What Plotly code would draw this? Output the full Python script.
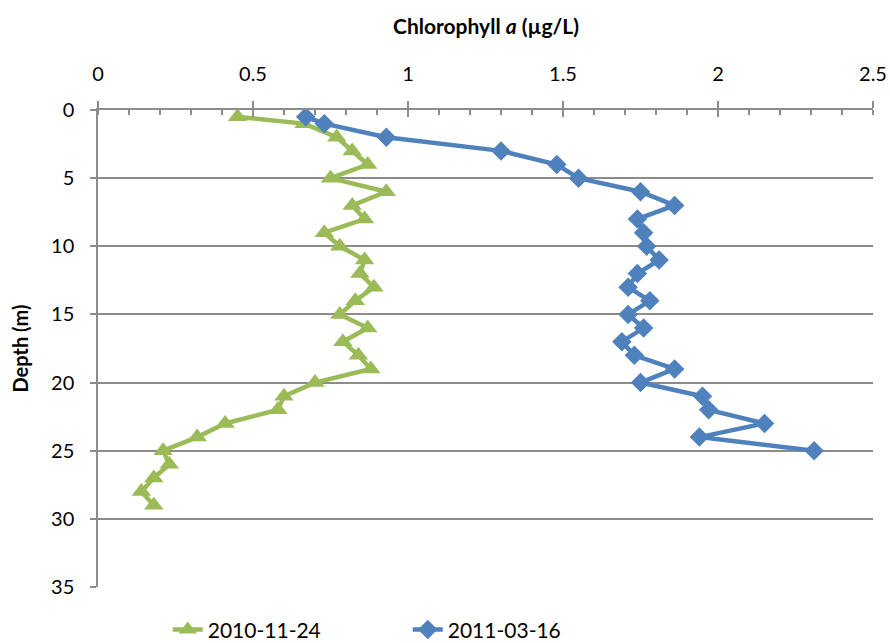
import plotly.graph_objects as go

# depth (m) and chlorophyll a (ug/L)
depth_nov = [0.5, 1, 2, 3, 4, 5, 6, 7, 8, 9, 10, 11, 12, 13, 14, 15,
             16, 17, 18, 19, 20, 21, 22, 23, 24, 25, 26, 27, 28, 29]
chl_nov = [0.45, 0.665, 0.77, 0.82, 0.87, 0.75, 0.93, 0.82, 0.86, 0.73,
           0.78, 0.86, 0.845, 0.89, 0.83, 0.78, 0.87, 0.79, 0.84, 0.88,
           0.70, 0.60, 0.58, 0.41, 0.32, 0.21, 0.23, 0.18, 0.14, 0.18]

depth_mar = [0.5, 1, 2, 3, 4, 5, 6, 7, 8, 9, 10, 11, 12, 13, 14, 15,
             16, 17, 18, 19, 20, 21, 22, 23, 24, 25]
chl_mar = [0.67, 0.73, 0.93, 1.30, 1.48, 1.55, 1.75, 1.86, 1.74, 1.76,
           1.77, 1.81, 1.74, 1.71, 1.78, 1.71, 1.76, 1.69, 1.73, 1.86,
           1.75, 1.95, 1.97, 2.15, 1.94, 2.31]

x_ticks = [0, 0.5, 1, 1.5, 2, 2.5]
x_tick_text = ["0", "0.5", "1", "1.5", "2", "2.5"]
y_ticks = [0, 5, 10, 15, 20, 25, 30, 35]

GREEN = "#9BBB59"
BLUE = "#4F81BD"
AXIS = "#8C8C8C"
FONT = "Lato, 'Open Sans', sans-serif"

fig = go.Figure()
fig.add_trace(go.Scatter(
    x=chl_nov, y=depth_nov, name="2010-11-24", mode="lines+markers",
    line=dict(color=GREEN, width=4.5),
    marker=dict(symbol="triangle-up", size=17, color=GREEN),
))
fig.add_trace(go.Scatter(
    x=chl_mar, y=depth_mar, name="2011-03-16", mode="lines+markers",
    line=dict(color=BLUE, width=4.5),
    marker=dict(symbol="diamond", size=15, color=BLUE),
))

fig.update_layout(
    width=890, height=643,
    margin=dict(l=98, r=17, t=110, b=56, autoexpand=False),
    paper_bgcolor="white", plot_bgcolor="white",
    font=dict(family=FONT, size=20, color="#000000"),
    showlegend=True,
    legend=dict(
        orientation="h", x=0.09, xanchor="left", y=-0.09, yanchor="middle",
        font=dict(size=21), entrywidth=195, bgcolor="rgba(0,0,0,0)",
    ),
    xaxis=dict(
        side="top", range=[0, 2.5], tickvals=x_ticks, ticktext=x_tick_text,
        showgrid=False, zeroline=False, automargin=False,
        showline=True, linecolor=AXIS, linewidth=1.5,
        ticks="outside", ticklen=7, tickcolor=AXIS, tickwidth=1.5,
        ticklabelstandoff=12,
        minor=dict(dtick=0.1, ticks="inside", ticklen=5, tickcolor=AXIS,
                   tickwidth=1.5, showgrid=False),
    ),
    # duplicate top axis so the major ticks cross the axis line
    xaxis2=dict(
        overlaying="x", side="top", matches="x", range=[0, 2.5],
        tickvals=x_ticks, showticklabels=False, showgrid=False,
        zeroline=False, automargin=False, ticks="inside", ticklen=7,
        tickcolor=AXIS, tickwidth=1.5,
    ),
    yaxis=dict(
        range=[35, 0], tickvals=y_ticks, automargin=False,
        showgrid=True, gridcolor=AXIS, gridwidth=1.5, zeroline=False,
        showline=True, linecolor=AXIS, linewidth=1.5,
        ticks="outside", ticklen=6, tickcolor=AXIS, tickwidth=1.5,
        ticklabelstandoff=12,
    ),
    annotations=[
        dict(text="<b>Chlorophyll <i>a</i> (µg/L)</b>", xref="paper",
             yref="paper", x=0.5, y=1 + (110 - 25) / 477, xanchor="center",
             yanchor="middle", showarrow=False, font=dict(size=21)),
        dict(text="<b>Depth (m)</b>", xref="paper", yref="paper",
             x=-(98 - 19) / 775, y=0.5, xanchor="center", yanchor="middle",
             textangle=-90, showarrow=False, font=dict(size=20)),
    ],
)

# invisible trace so the crossing-tick axis gets drawn
fig.add_trace(go.Scatter(x=[0], y=[0], xaxis="x2", mode="markers",
                         marker=dict(opacity=0), showlegend=False,
                         hoverinfo="skip"))

# drop the default 8px body margin so the figure fills the window
fig.write_html("out.html", config={"displayModeBar": False},
               post_script="document.body.style.margin='0';")
